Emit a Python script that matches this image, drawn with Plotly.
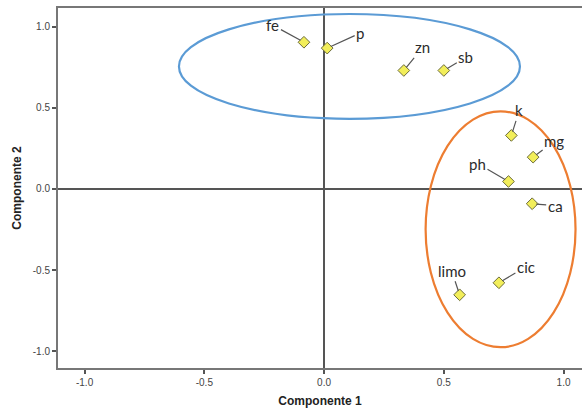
import plotly.graph_objects as go

labels = ["fe", "p", "zn", "sb", "k", "mg", "ph", "ca", "limo", "cic"]
comp1 = [-0.084, 0.013, 0.333, 0.500, 0.782, 0.873, 0.770, 0.869, 0.566, 0.730]
comp2 = [0.904, 0.868, 0.730, 0.730, 0.330, 0.196, 0.046, -0.091, -0.652, -0.578]
label_dx = [-31, 33, 19, 22, 8, 21, -31, 23, -8, 27]
label_dy = [-17, -15, -23, -13, -25, -16, -18, 2, -24, -16]

tick_vals = [-1.0, -0.5, 0.0, 0.5, 1.0]
tick_text = ["-1.0", "-0.5", "0.0", "0.5", "1.0"]

# ellipses (x0, x1, y0, y1) in data units
blue_ellipse = [-0.606, 0.818, 0.432, 1.078]
orange_ellipse = [0.424, 1.050, -0.975, 0.478]

fig = go.Figure()
fig.add_trace(go.Scatter(
    x=comp1, y=comp2, mode="markers",
    marker=dict(symbol="diamond", size=9, color="#f2ee5a",
                line=dict(color="#6b6b3a", width=1)),
    showlegend=False, hoverinfo="text", text=labels))

for lab, x, y, dx, dy in zip(labels, comp1, comp2, label_dx, label_dy):
    fig.add_annotation(x=x, y=y, text=lab, showarrow=True, arrowhead=0,
                       arrowwidth=1.2, arrowcolor="#555555", ax=dx, ay=dy,
                       standoff=4, startstandoff=0,
                       font=dict(family="Lato, Open Sans, sans-serif", size=15, color="#2b2b2b"))

for e, col in [(blue_ellipse, "#5b9bd5"), (orange_ellipse, "#ed7d31")]:
    fig.add_shape(type="circle", xref="x", yref="y",
                  x0=e[0], x1=e[1], y0=e[2], y1=e[3],
                  line=dict(color=col, width=2.2), layer="above")

axis_common = dict(
    tickmode="array", tickvals=tick_vals, ticktext=tick_text,
    showgrid=False, zeroline=True, zerolinecolor="#555555", zerolinewidth=1.5,
    showline=True, linecolor="#777777", linewidth=2,
    ticks="outside", ticklen=4, tickwidth=1.5, tickcolor="#555555",
    tickfont=dict(family="Liberation Sans, Arial, sans-serif", size=10, color="#444444"),
)

fig.update_layout(
    width=582, height=411,
    margin=dict(l=58, r=0, t=8, b=43),
    plot_bgcolor="white", paper_bgcolor="white",
    xaxis=dict(range=[-1.111, 1.077], mirror=True,
               title=dict(text="<b>Componente 1</b>", standoff=10,
                          font=dict(family="Liberation Sans, Arial, sans-serif", size=12, color="#222222")),
               **axis_common),
    yaxis=dict(range=[-1.103, 1.115],
               title=dict(text="<b>Componente 2</b>", standoff=9,
                          font=dict(family="Liberation Sans, Arial, sans-serif", size=12, color="#222222")),
               **axis_common),
)

fig.write_html("out.html")
